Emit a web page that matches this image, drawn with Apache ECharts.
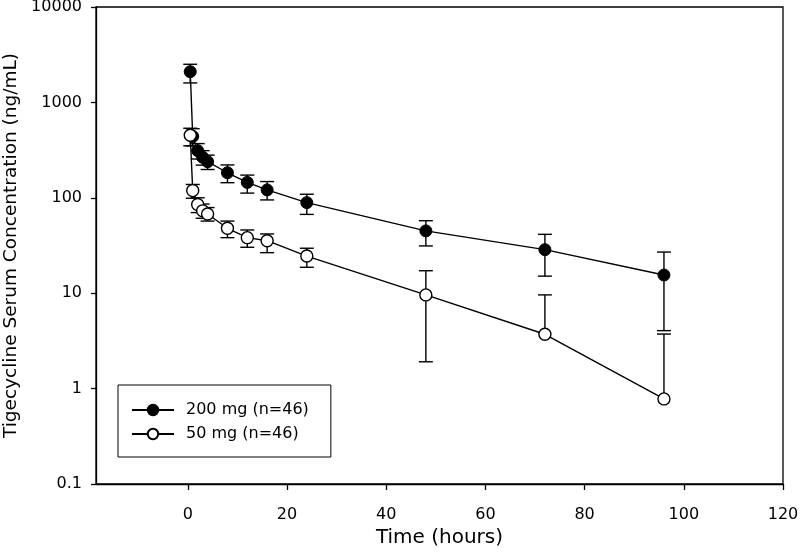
<!DOCTYPE html>
<html>
<head>
<meta charset="utf-8">
<script src="https://cdn.jsdelivr.net/npm/echarts@6/dist/echarts.min.js"></script>
<style>
  html, body { margin: 0; padding: 0; background: #fff; }
  #chart { width: 800px; height: 553px; }
</style>
</head>
<body>
<div id="chart"></div>
<script>
// ---- data ----
const seriesNames = ['200 mg (n=46)', '50 mg (n=46)'];
const times = [0.5, 1, 2, 3, 4, 8, 12, 16, 24, 48, 72, 96];

const mean200  = [2100, 440, 312, 266, 239, 183, 145, 121, 89, 45, 28.6, 15.5];
const upper200 = [2510, 530, 370, 312, 280, 221, 173, 148, 109, 57.5, 41.4, 27];
const lower200 = [1600, 350, 255, 220, 198, 144, 112, 95, 67, 31.3, 15.1, 4.05];

const mean50  = [452, 119, 85, 73, 67.6, 47.9, 38.2, 35.5, 24.5, 9.6, 3.71, 0.78];
const upper50 = [536, 138, 100, 86, 79, 57, 46, 41.8, 29.6, 17.2, 9.6, 3.73];
const lower50 = [351, 99, 70, 61, 57, 38.2, 30.3, 26.6, 18.7, 1.91, null, null];

const xTicks = [0, 20, 40, 60, 80, 100, 120];
const yTicks = [0.1, 1, 10, 100, 1000, 10000];
const xMin = -18.5, xMax = 120;

const FONT = 'DejaVu Sans';

function pairs(xs, ys) { return xs.map((x, i) => [x, ys[i]]); }
function errRows(xs, m, up, lo) {
  return xs.map((x, i) => [x, lo[i] == null ? m[i] : lo[i], up[i], lo[i] == null ? 0 : 1]);
}

function renderErr(params, api) {
  const x = api.value(0), lo = api.value(1), hi = api.value(2), hasLo = api.value(3);
  const pt = api.coord([x, hi]);
  const pb = api.coord([x, lo]);
  const w = 7;
  const st = { stroke: '#000', lineWidth: 1.4 };
  const children = [
    { type: 'line', shape: { x1: pt[0], y1: pt[1], x2: pb[0], y2: pb[1] }, style: st },
    { type: 'line', shape: { x1: pt[0] - w, y1: pt[1], x2: pt[0] + w, y2: pt[1] }, style: st }
  ];
  if (hasLo) {
    children.push({ type: 'line', shape: { x1: pb[0] - w, y1: pb[1], x2: pb[0] + w, y2: pb[1] }, style: st });
  }
  return { type: 'group', children };
}

const chart = echarts.init(document.getElementById('chart'), null, { renderer: 'canvas' });
chart.setOption({
  animation: false,
  backgroundColor: '#fff',
  grid: {
    left: 96, right: 17, top: 7, bottom: 69,
    outerBoundsMode: 'none', containLabel: false,
    show: true, borderColor: '#000', borderWidth: 1.3, backgroundColor: 'transparent'
  },
  xAxis: {
    type: 'value', min: xMin, max: xMax,
    name: 'Time (hours)', nameLocation: 'middle', nameGap: 44,
    nameTextStyle: { fontFamily: FONT, fontSize: 20, color: '#000' },
    axisLine: { show: true, onZero: false, lineStyle: { color: '#000', width: 1.3 } },
    axisTick: { show: true, inside: false, length: 6, customValues: xTicks, lineStyle: { color: '#000', width: 1.3 } },
    axisLabel: { customValues: xTicks, margin: 23, fontFamily: FONT, fontSize: 16, color: '#000' },
    splitLine: { show: false }
  },
  yAxis: {
    type: 'log', logBase: 10, min: 0.1, max: 10000,
    name: 'Tigecycline Serum Concentration (ng/mL)', nameLocation: 'middle', nameGap: 70,
    nameTextStyle: { fontFamily: FONT, fontSize: 18.5, color: '#000' },
    axisLine: { show: true, onZero: false, lineStyle: { color: '#000', width: 1.3 } },
    axisTick: { show: true, inside: false, length: 5, customValues: yTicks, lineStyle: { color: '#000', width: 1.3 } },
    axisLabel: {
      customValues: yTicks, margin: 14, fontFamily: FONT, fontSize: 16, color: '#000',
      formatter: v => String(+Number(v).toPrecision(6))
    },
    minorTick: { show: false },
    splitLine: { show: false }
  },
  legend: {
    orient: 'vertical',
    left: 118, top: 385,
    data: seriesNames,
    itemWidth: 42, itemHeight: 13, itemGap: 8,
    padding: [17, 22, 15, 13],
    borderColor: '#000', borderWidth: 1, backgroundColor: '#fff',
    textStyle: { fontFamily: FONT, fontSize: 16, color: '#000', padding: [0, 0, 0, 7] }
  },
  series: [
    {
      type: 'custom', name: 'err200', renderItem: renderErr, z: 1,
      data: errRows(times, mean200, upper200, lower200), silent: true
    },
    {
      type: 'custom', name: 'err50', renderItem: renderErr, z: 1,
      data: errRows(times, mean50, upper50, lower50), silent: true
    },
    {
      type: 'line', name: seriesNames[0], z: 3,
      data: pairs(times, mean200),
      symbol: 'circle', symbolSize: 12,
      itemStyle: { color: '#000', borderColor: '#000', borderWidth: 1 },
      lineStyle: { color: '#000', width: 1.4 }
    },
    {
      type: 'line', name: seriesNames[1], z: 4,
      data: pairs(times, mean50),
      symbol: 'circle', symbolSize: 12,
      itemStyle: { color: '#fff', borderColor: '#000', borderWidth: 1.4 },
      lineStyle: { color: '#000', width: 1.4 }
    }
  ]
});
</script>
</body>
</html>
